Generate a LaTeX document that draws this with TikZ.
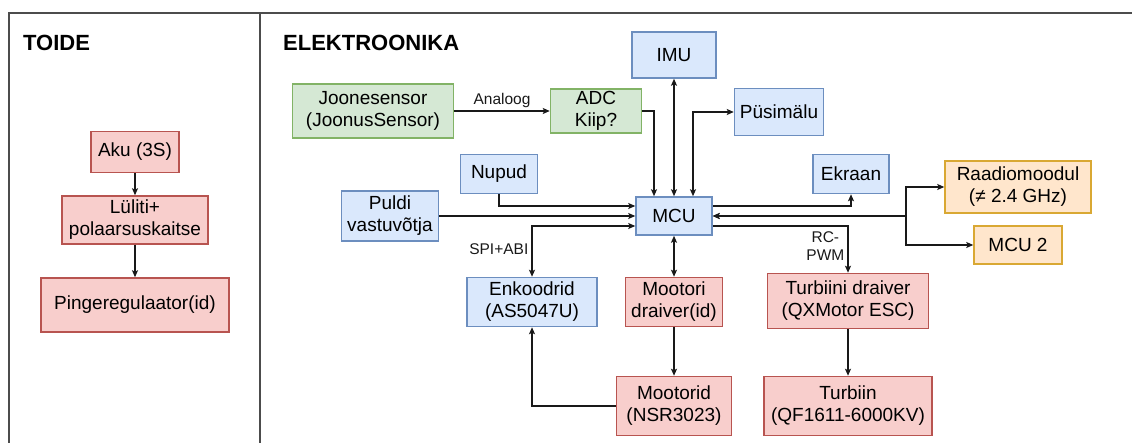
\documentclass[tikz,border=0pt]{standalone}
\usepackage{fontspec}
\setmainfont{Liberation Sans}
\usetikzlibrary{arrows.meta,calc}
\definecolor{BlueFillClr}{rgb}{0.855,0.91,0.988}
\definecolor{BlueLineClr}{rgb}{0.424,0.557,0.749}
\definecolor{GreenFillClr}{rgb}{0.835,0.91,0.831}
\definecolor{GreenLineClr}{rgb}{0.51,0.702,0.4}
\definecolor{RedFillClr}{rgb}{0.973,0.808,0.8}
\definecolor{RedLineClr}{rgb}{0.722,0.329,0.314}
\definecolor{OrangeFillClr}{rgb}{1,0.902,0.8}
\definecolor{OrangeLineClr}{rgb}{0.85,0.66,0.2}
\definecolor{FrameClr}{rgb}{0.3,0.3,0.3}
\definecolor{WireClr}{rgb}{0.1,0.1,0.1}

\begin{document}
\begin{tikzpicture}[x=1pt,y=-1pt,
  box/.style={draw,line width=1.5pt,inner sep=0pt,align=center,font=\fontsize{19}{22}\selectfont},
  BlueBox/.style={box,fill=BlueFillClr,draw=BlueLineClr},
  GreenBox/.style={box,fill=GreenFillClr,draw=GreenLineClr},
  RedBox/.style={box,fill=RedFillClr,draw=RedLineClr},
  OrangeBox/.style={box,fill=OrangeFillClr,draw=OrangeLineClr},
  conn/.style={line width=1.4pt,draw=WireClr,-{Stealth[length=7pt,width=6pt,inset=1.5pt]}},
  both/.style={conn,{Stealth[length=7pt,width=6pt,inset=1.5pt]}-{Stealth[length=7pt,width=6pt,inset=1.5pt]}},
  lbl/.style={font=\fontsize{15.5}{18}\selectfont,inner sep=3pt,text=WireClr},
  title/.style={font=\fontsize{22}{26}\selectfont\bfseries,inner sep=0pt}]
\useasboundingbox (0,0) rectangle (1132,443);

\draw[FrameClr,line width=2pt] (1132,13) -- (9,13) -- (9,443);
\draw[FrameClr,line width=2pt] (260,13) -- (260,443);

\node[title,anchor=base west] (toide) at (23,51) {TOIDE};
\node[title,anchor=base west] (elektr) at (283,51) {ELEKTROONIKA};

\node[RedBox,minimum width=88pt,minimum height=41pt] (aku) at (135,152) {Aku (3S)};
\node[RedBox,minimum width=146pt,minimum height=48pt] (lul) at (135,220) {Lüliti+\\polaarsuskaitse};
\node[RedBox,minimum width=188pt,minimum height=54pt] (pin) at (135,305) {Pingeregulaator(id)};

\node[GreenBox,minimum width=161pt,minimum height=54pt] (joo) at (373,111) {Joonesensor\\(JoonusSensor)};
\node[GreenBox,minimum width=91pt,minimum height=44pt] (adc) at (596,111) {ADC\\Kiip?};
\node[BlueBox,minimum width=84pt,minimum height=46pt] (imu) at (674,55) {IMU};
\node[BlueBox,minimum width=89pt,minimum height=47pt] (pus) at (779,112) {Püsimälu};
\node[BlueBox,minimum width=77pt,minimum height=39pt] (nup) at (499,174) {Nupud};
\node[BlueBox,minimum width=97pt,minimum height=50pt] (pul) at (390,216) {Puldi\\vastuvõtja};
\node[BlueBox,minimum width=76pt,minimum height=38pt] (mcu) at (674,216) {MCU};
\node[BlueBox,minimum width=76pt,minimum height=39pt] (ekr) at (851,174) {Ekraan};
\node[OrangeBox,minimum width=146pt,minimum height=52pt] (rad) at (1018,187) {Raadiomoodul\\(≠ 2.4 GHz)};
\node[OrangeBox,minimum width=88pt,minimum height=38pt] (mc2) at (1018,245) {MCU 2};
\node[BlueBox,minimum width=130pt,minimum height=49pt] (enk) at (532,302) {Enkoodrid\\(AS5047U)};
\node[RedBox,minimum width=97pt,minimum height=49pt] (mdr) at (674,302) {Mootori\\draiver(id)};
\node[RedBox,minimum width=161pt,minimum height=55pt] (tdr) at (848,301) {Turbiini draiver\\(QXMotor ESC)};
\node[RedBox,minimum width=115pt,minimum height=59pt] (mot) at (674,406) {Mootorid\\(NSR3023)};
\node[RedBox,minimum width=168pt,minimum height=59pt] (tur) at (848,406) {Turbiin\\(QF1611-6000KV)};
\coordinate (fork) at (906,216);

\draw[conn] (aku) -- (lul);
\draw[conn] (lul) -- (pin);

\draw[conn] (joo) -- (adc) node[lbl,midway,above] {Analoog};
\draw[conn] (adc.east) -| ([xshift=-20pt]mcu.north);
\draw[both] (imu) -- (mcu);
\draw[both] ([xshift=19pt]mcu.north) |- (pus.west);
\draw[conn] (nup.south) |- ([yshift=10pt]mcu.west);
\draw[conn] (pul) -- (mcu);
\draw[both] ([yshift=-10pt]mcu.west) -| (enk.north) node[lbl,left,pos=0.73] {SPI+ABI};
\draw[both] (mcu) -- (mdr);
\draw[conn] (mdr) -- (mot);
\draw[conn] (mot.west) -| (enk.south);
\draw[conn] ([yshift=10pt]mcu.east) -| (ekr.south);
\draw[conn] ([yshift=-10pt]mcu.east) -| (tdr.north) node[lbl,left,pos=0.71,align=center] {RC-\\PWM};
\draw[conn] (tdr) -- (tur);
\draw[both] (mcu.east) -- (fork) |- (rad.west);
\draw[both] (mcu.east) -- (fork) |- (mc2.west);

\end{tikzpicture}
\end{document}
